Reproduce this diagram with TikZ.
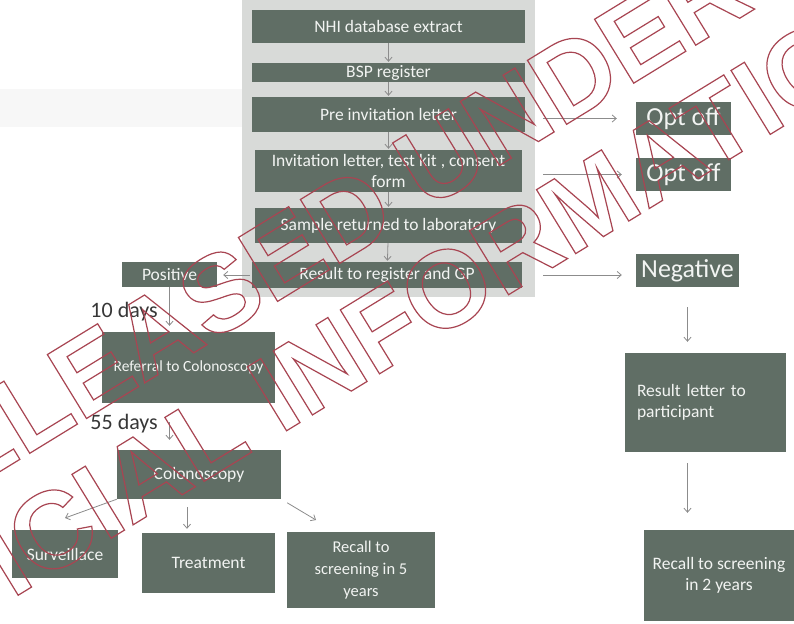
\documentclass[tikz,border=0pt]{standalone}
\usepackage{fontspec}
\setmainfont{Carlito}
\newfontfamily\wmfont{Liberation Sans}
\usetikzlibrary{arrows.meta,calc}
\definecolor{boxc}{RGB}{96,110,101}
\definecolor{boxtext}{RGB}{242,244,242}
\definecolor{arrc}{RGB}{140,140,140}
\definecolor{bandc}{RGB}{216,218,216}
\definecolor{wmred}{RGB}{168,70,82}
\definecolor{daysc}{RGB}{55,55,55}
\newcommand\outlinetext[1]{\special{pdf:literal direct 1 Tr 1.2 w 0.66 0.27 0.32 RG}#1\special{pdf:literal direct 0 Tr}}
\begin{document}
\begin{tikzpicture}[x=1pt,y=-1pt,
  box/.style={fill=boxc,text=boxtext,inner sep=0pt,align=center,font=\fontsize{17.5}{21}\selectfont},
  bigbox/.style={box,font=\fontsize{26}{30}\selectfont},
  arr/.style={draw=arrc,line width=0.8pt,-{Straight Barb[length=4pt,width=7pt]}},
  days/.style={text=daysc,inner sep=0pt,font=\fontsize{22}{26}\selectfont},
  wm/.style={text=wmred,inner sep=0pt,rotate=31.5,font=\wmfont\bfseries\fontsize{109}{120}\selectfont}]
\useasboundingbox (0,0) rectangle (794,623);
\fill[white] (0,0) rectangle (794,623);
\fill[bandc] (242,0) rectangle (535,297);
\fill[gray!6] (0,89) rectangle (242,127);
% central column
\node[box,minimum width=273,minimum height=33] (nhi) at (388.5,26.5) {NHI database extract};
\node[box,minimum width=273,minimum height=19] (bsp) at (388.5,72.5) {BSP register};
\node[box,minimum width=273,minimum height=35] (preinv) at (388.5,114.5) {Pre invitation letter};
\node[box,minimum width=267,minimum height=42] (inv) at (388.5,171) {Invitation letter, test kit , consent\\form};
\node[box,minimum width=267,minimum height=35] (sample) at (388.5,225.5) {Sample returned to laboratory};
\node[box,minimum width=270,minimum height=26] (result) at (387,275) {Result to register and GP};
% right
\node[bigbox,minimum width=95,minimum height=33] (opt1) at (683.5,118.5) {Opt off};
\node[bigbox,minimum width=95,minimum height=33] (opt2) at (683.5,174.5) {Opt off};
\node[bigbox,minimum width=103,minimum height=33] (neg) at (687.5,270.5) {Negative};
\node[box,minimum width=161,minimum height=99,text width=137,align=left] (rlet) at (705.5,402.5) {Result letter to\\participant};
\node[box,minimum width=150,minimum height=91] (rec2) at (719,575.5) {Recall to screening\\in 2 years};
% left
\node[box,minimum width=95,minimum height=25] (pos) at (169.5,274.5) {Positive};
\node[box,minimum width=173,minimum height=71,font=\fontsize{15.5}{19}\selectfont] (ref) at (188.5,367.5) {Referral to Colonoscopy};
\node[box,minimum width=164,minimum height=49] (colo) at (199,474.5) {Colonoscopy};
\node[box,minimum width=106,minimum height=48] (surv) at (65,554) {Surveillace};
\node[box,minimum width=133,minimum height=60] (treat) at (208.5,563) {Treatment};
\node[box,minimum width=148,minimum height=76,font=\fontsize{16.5}{22}\selectfont] (rec5) at (361,570) {Recall to\\screening in 5\\years};
\node[days,anchor=east] (d10) at (158,312) {10 days};
\node[days,anchor=east] (d55) at (158,424) {55 days};
\coordinate (survtip) at (65,518);
\coordinate (rectip) at (316,520);
% arrows
\draw[arr,shorten >=1pt] (nhi) -- (bsp);
\draw[arr,shorten >=1pt] (bsp) -- (preinv);
\draw[arr,shorten >=1pt] (preinv) -- (inv);
\draw[arr,shorten >=1pt] (inv) -- (sample);
\draw[arr,shorten >=1pt] (sample) -- (result);
\draw[arr,shorten <=18pt,shorten >=19pt] (preinv.east |- opt1.west) -- (opt1.west);
\draw[arr,shorten <=21pt,shorten >=14pt] (inv.east |- opt2.west) -- (opt2.west);
\draw[arr,shorten <=21pt,shorten >=14pt] (result.east) -- (result.east -| neg.west);
\draw[arr,shorten <=2pt,shorten >=6pt] (result.west) -- (result.west -| pos.east);
\draw[arr,shorten >=6pt] (pos.south) -- (pos.south |- ref.north);
\draw[arr,shorten <=19pt,shorten >=10pt] (pos.south |- ref.south) -- (pos.south |- colo.north);
\draw[arr] (colo.south west) -- (survtip);
\draw[arr,shorten <=8pt,shorten >=4pt] ([xshift=-12pt]colo.south) -- ([xshift=-12pt]colo.south |- treat.north);
\draw[arr,shorten <=7pt] (colo.south east) -- (rectip);
\draw[arr,shorten <=20pt,shorten >=11pt] (neg.south) -- (neg.south |- rlet.north);
\draw[arr,shorten <=11pt,shorten >=17pt] (neg.south |- rlet.south) -- (neg.south |- rec2.north);
% watermark
\node[wm] (wm1) at (306,240) {\outlinetext{RELEASED UNDER}};
\node[wm] (wm2) at (358,343) {\outlinetext{OFFICIAL INFORMATION}};
\end{tikzpicture}
\end{document}
